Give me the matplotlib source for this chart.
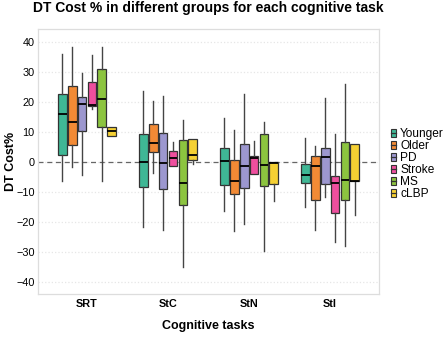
import matplotlib.pyplot as plt
from matplotlib.patches import Patch
from matplotlib.lines import Line2D
from matplotlib.legend_handler import HandlerTuple

# categories and groups
tasks = ['SRT', 'StC', 'StN', 'StI']
groups = ['Younger', 'Older', 'PD', 'Stroke', 'MS', 'cLBP']
colors = ['#3fb795', '#f28a35', '#9c97cf', '#ee4f9e', '#8cc43f', '#f5d033']

# box statistics per group, one value per task (SRT, StC, StN, StI)
younger_lo = [-6.5, -21.6, -16.3, -15.0]
younger_q1 = [2.3, -8.4, -7.8, -7.1]
younger_med = [16.0, -0.2, 0.3, -4.3]
younger_q3 = [22.4, 9.1, 4.7, -0.7]
younger_hi = [36.0, 23.7, 14.7, 8.0]

older_lo = [-1.9, -3.8, -23.2, -22.9]
older_q1 = [5.5, 3.2, -10.6, -12.6]
older_med = [13.1, 6.2, -6.5, -1.3]
older_q3 = [25.1, 12.6, 0.7, 1.8]
older_hi = [38.1, 20.2, 10.6, 5.1]

pd_lo = [-4.4, -22.8, -20.7, -11.9]
pd_q1 = [10.2, -9.2, -8.9, -7.3]
pd_med = [19.3, -0.4, -1.3, 1.6]
pd_q3 = [21.5, 9.6, 5.8, 4.5]
pd_hi = [29.5, 21.9, 22.5, 21.3]

stroke_lo = [17.5, -1.5, -4.0, -26.7]
stroke_q1 = [18.6, -1.3, -4.0, -17.0]
stroke_med = [18.8, 1.2, 1.2, -7.1]
stroke_q3 = [26.7, 3.6, 1.8, -4.7]
stroke_hi = [35.4, 6.5, 6.9, 9.3]

ms_lo = [-6.5, -35.2, -29.8, -28.1]
ms_q1 = [11.6, -14.4, -8.0, -12.6]
ms_med = [20.8, -7.1, -1.0, -6.2]
ms_q3 = [30.8, 7.1, 9.2, 6.7]
ms_hi = [38.1, 13.9, 13.1, 25.9]

clbp_lo = [8.4, -0.9, -13.0, -17.9]
clbp_q1 = [8.4, 0.7, -7.3, -6.5]
clbp_med = [10.1, 2.4, -0.5, -6.3]
clbp_q3 = [11.5, 7.4, -0.2, 6.0]
clbp_hi = [11.5, 7.4, -0.2, 6.0]

stats = {
    'Younger': (younger_lo, younger_q1, younger_med, younger_q3, younger_hi),
    'Older': (older_lo, older_q1, older_med, older_q3, older_hi),
    'PD': (pd_lo, pd_q1, pd_med, pd_q3, pd_hi),
    'Stroke': (stroke_lo, stroke_q1, stroke_med, stroke_q3, stroke_hi),
    'MS': (ms_lo, ms_q1, ms_med, ms_q3, ms_hi),
    'cLBP': (clbp_lo, clbp_q1, clbp_med, clbp_q3, clbp_hi),
}

plt.rcParams['font.family'] = ['Liberation Sans', 'DejaVu Sans']

fig = plt.figure(figsize=(4.47, 3.37), dpi=100)
ax = fig.add_axes([0.085, 0.128, 0.763, 0.786])

slot = 0.123
width = 0.11
for gi, g in enumerate(groups):
    lo, q1, med, q3, hi = stats[g]
    bxp_stats = []
    for ti in range(len(tasks)):
        bxp_stats.append({'whislo': lo[ti], 'q1': q1[ti], 'med': med[ti],
                          'q3': q3[ti], 'whishi': hi[ti], 'fliers': []})
    pos = [ti + 1 + (gi - 2.5) * slot for ti in range(len(tasks))]
    ax.bxp(bxp_stats, positions=pos, widths=width, patch_artist=True,
           showcaps=False, showfliers=False, manage_ticks=False,
           boxprops=dict(facecolor=colors[gi], edgecolor='#333333', linewidth=0.9),
           medianprops=dict(color='black', linewidth=1.3),
           whiskerprops=dict(color='#444444', linewidth=1.0))

ax.axhline(0, color='#666666', linestyle='--', linewidth=0.9, dashes=(4, 3), zorder=1)

ax.set_xlim(0.395, 4.605)
ax.set_ylim(-44, 44.2)
ax.set_xticks(range(1, len(tasks) + 1))
ax.set_xticklabels(tasks, fontweight='bold', fontsize=8.3)
ax.set_yticks(range(-40, 41, 10))
ax.tick_params(axis='both', length=0, labelsize=7.8, colors='black')
ax.tick_params(axis='y', pad=2.5)
ax.tick_params(axis='x', pad=3.5)
ax.yaxis.grid(True, color='#e6e6e6', linestyle=':', linewidth=0.9)
ax.set_axisbelow(True)
for s in ax.spines.values():
    s.set_color('#dddddd')
    s.set_linewidth(0.9)

ax.set_ylabel('DT Cost%', fontweight='bold', fontsize=9)
ax.yaxis.set_label_coords(-0.062, 0.5)
ax.set_xlabel('Cognitive tasks', fontweight='bold', fontsize=9, va='top')
ax.xaxis.set_label_coords(0.5, -0.1)
fig.text(0.466, 0.976, 'DT Cost % in different groups for each cognitive task',
         ha='center', va='center', fontweight='bold', fontsize=10)

handles = [(Patch(facecolor=c, edgecolor='#333333', linewidth=0.8),
            Line2D([], [], color='#333333', linewidth=0.9)) for c in colors]
fig.legend(handles, groups, loc='center left', bbox_to_anchor=(0.863, 0.513),
           frameon=False, fontsize=8.6, handlelength=0.45, handleheight=0.75,
           handletextpad=0.35, labelspacing=0.0, borderaxespad=0,
           handler_map={tuple: HandlerTuple(ndivide=1, pad=0)})

fig.savefig('out.png', dpi=100)
